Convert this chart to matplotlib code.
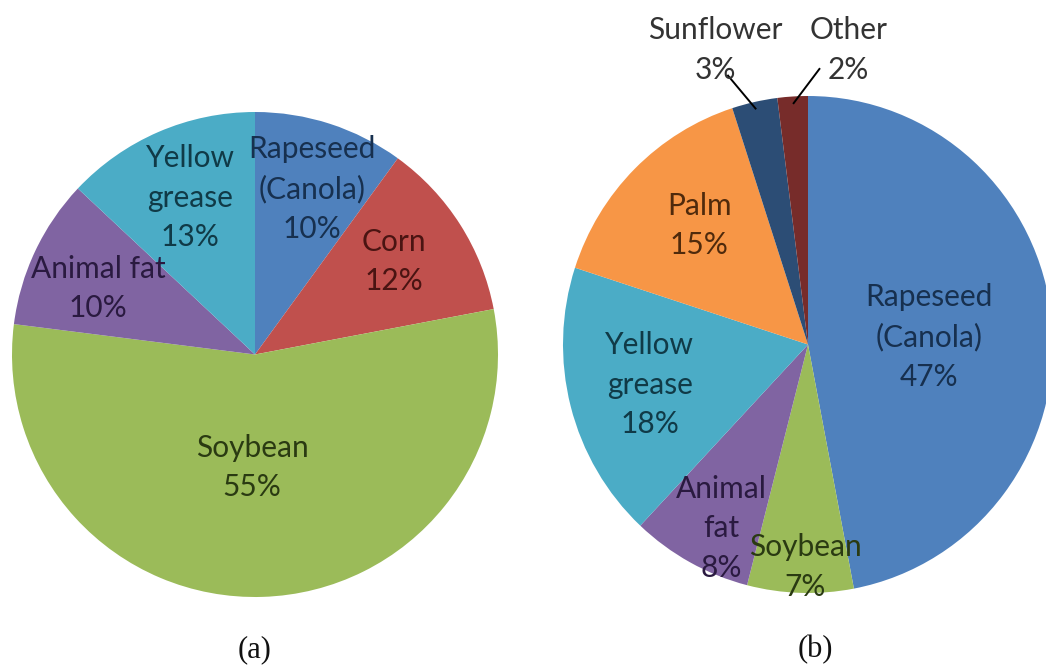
import numpy as np
import matplotlib
matplotlib.use("Agg")
import matplotlib.pyplot as plt

# ---- data ----
left_labels = ["Rapeseed\n(Canola)", "Corn", "Soybean", "Animal fat", "Yellow\ngrease"]
left_values = [10, 12, 55, 10, 13]
left_colors = ["#4F81BD", "#C0504D", "#9BBB59", "#8064A2", "#4BACC6"]
left_text_colors = ["#17304F", "#4A1412", "#2A3A12", "#2A1A40", "#103A47"]
left_label_pos = [(0.235, 0.683), (0.572, 0.383), (-0.012, -0.465), (-0.646, 0.272), (-0.267, 0.646)]

right_labels = ["Rapeseed\n(Canola)", "Soybean", "Animal\nfat", "Yellow\ngrease", "Palm", "Sunflower", "Other"]
right_values = [47, 7, 8, 18, 15, 3, 2]
right_colors = ["#4F81BD", "#9BBB59", "#8064A2", "#4BACC6", "#F79646", "#2C4D75", "#772C2A"]
right_text_colors = ["#17304F", "#2A3A12", "#2A1A40", "#103A47", "#4F2A0C", "#333333", "#333333"]
right_label_pos = [(0.494, 0.032), (-0.012, -0.896), (-0.354, -0.739), (-0.646, -0.161),
                   (-0.444, 0.478), (-0.379, 1.185), (0.165, 1.185)]
# leader lines for outside labels: index -> start point near the text
leaders = {5: (-0.329, 1.085), 6: (0.049, 1.112)}

W, H = 1046, 670
fig = plt.figure(figsize=(W / 100, H / 100), dpi=100)
fig.patch.set_facecolor("white")

FONT = "Lato"
FS = 21.5


def make_ax(x0, x1, y0, y1):
    ax = fig.add_axes([x0 / W, 1 - y1 / H, (x1 - x0) / W, (y1 - y0) / H])
    return ax


def draw_pie(ax, values, colors, labels, tcolors, positions):
    ax.pie(values, colors=colors, startangle=90, counterclock=False,
           radius=1.0, wedgeprops=dict(linewidth=0))
    ax.set_aspect("auto")
    ax.set_xlim(-1, 1)
    ax.set_ylim(-1, 1)
    ax.axis("off")
    for lab, v, c, (x, y) in zip(labels, values, tcolors, positions):
        ax.text(x, y, f"{lab}\n{v}%", ha="center", va="center", fontsize=FS,
                family=FONT, color=c, linespacing=1.5, clip_on=False)


axL = make_ax(12, 498, 112, 597)
draw_pie(axL, left_values, left_colors, left_labels, left_text_colors, left_label_pos)

axR = make_ax(563, 1053, 96, 593)
draw_pie(axR, right_values, right_colors, right_labels, right_text_colors, right_label_pos)

# leader lines to slice edges at slice mid-angles
cum = np.cumsum([0] + right_values)
total = sum(right_values)
for i, (sx, sy) in leaders.items():
    mid = (cum[i] + right_values[i] / 2) / total
    ang = np.deg2rad(90 - 360 * mid)
    ex, ey = 0.97 * np.cos(ang), 0.97 * np.sin(ang)
    axR.plot([sx, ex], [sy, ey], color="black", lw=1.4, clip_on=False,
             solid_capstyle="butt")

fig.text(255 / W, 1 - 650 / H, "(a)", ha="center", va="center",
         fontsize=22, family="Liberation Serif", color="#111111")
fig.text(815 / W, 1 - 650 / H, "(b)", ha="center", va="center",
         fontsize=22, family="Liberation Serif", color="#111111")

fig.savefig("out.png", dpi=100, facecolor="white")
